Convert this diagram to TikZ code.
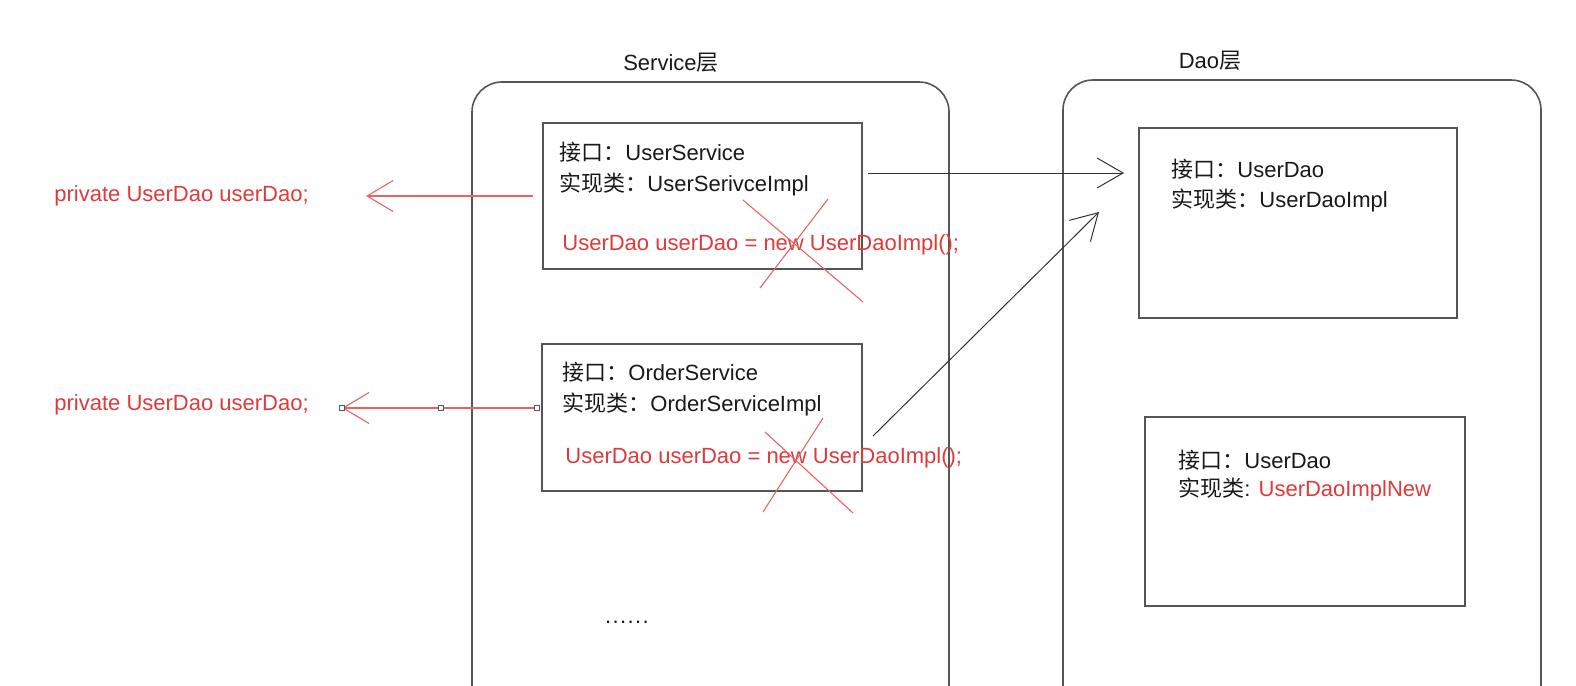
\documentclass[tikz,border=0pt]{standalone}
\usepackage{fontspec}
\setmainfont{Liberation Sans}
\newfontfamily\cjk{Noto Sans CJK SC}
\usetikzlibrary{arrows.meta}
\definecolor{redtxt}{RGB}{222,58,58}
\definecolor{redln}{RGB}{232,100,100}
\definecolor{boxln}{RGB}{85,85,85}
\definecolor{arrln}{RGB}{50,50,50}
\definecolor{txt}{RGB}{25,25,25}
\begin{document}
\begin{tikzpicture}[x=0.5pt,y=-0.5pt,
  every node/.style={font=\fontsize{11}{13}\selectfont, inner sep=0pt, text=txt},
  container/.style={draw=boxln, line width=0.8pt, rounded corners=15pt},
  box/.style={draw=boxln, line width=0.8pt},
  lbl/.style={anchor=west},
  redlbl/.style={anchor=west, text=redtxt},
  redarrow/.style={draw=redln, line width=0.55pt, -{Straight Barb[length=13pt,width=15.5pt,line width=0.55pt]}},
  blkarrow/.style={draw=arrln, line width=0.5pt, -{Straight Barb[length=13pt,width=15pt,line width=0.5pt]}},
  strike/.style={draw=redln, line width=0.55pt},
  handle/.style={draw=boxln, fill=white, line width=0.4pt, minimum size=2.5pt, inner sep=0pt}]
\useasboundingbox (0,0) rectangle (1576,686);
\clip (0,0) rectangle (1576,686);

% containers
\draw[container] (472,730) |- (949,82) -- (949,730);
\draw[container] (1063,730) |- (1541,80) -- (1541,730);
\node (svcT) at (671,63) {Service{\cjk 层}};
\node (daoT) at (1210,61) {Dao{\cjk 层}};

% service boxes
\node[box, minimum width=159.5pt, minimum height=73pt] (us) at (702.5,196) {};
\node[box, minimum width=160pt, minimum height=73.5pt] (os) at (702,417.5) {};
% dao boxes
\node[box, minimum width=159pt, minimum height=95pt] (dao1) at (1298,223) {};
\node[box, minimum width=160pt, minimum height=94.5pt] (dao2) at (1305,511.5) {};

% texts
\node[lbl] (us1) at (559,152) {{\cjk 接口：}UserService};
\node[lbl] (us2) at (559,184) {{\cjk 实现类：}UserSerivceImpl};
\node[redlbl] (us3) at (562,245) {UserDao userDao = new UserDaoImpl();};
\node[lbl] (os1) at (562,372) {{\cjk 接口：}OrderService};
\node[lbl] (os2) at (562,404) {{\cjk 实现类：}OrderServiceImpl};
\node[redlbl] (os3) at (565,458) {UserDao userDao = new UserDaoImpl();};
\node[lbl] (d1a) at (1171,169) {{\cjk 接口：}UserDao};
\node[lbl] (d1b) at (1171,200) {{\cjk 实现类：}UserDaoImpl};
\node[lbl] (d2a) at (1178,460) {{\cjk 接口：}UserDao};
\node[lbl] (d2b) at (1178,489) {{\cjk 实现类}: \textcolor{redtxt}{UserDaoImplNew}};
\node[redlbl] (pv1) at (54,196) {private UserDao userDao;};
\node[redlbl] (pv2) at (54,405) {private UserDao userDao;};
\node (dots) at (627,622) {.\kern0.7pt.\kern0.7pt.\kern0.7pt.\kern0.7pt.\kern0.7pt.};

% red arrows
\coordinate (ra1s) at (533,196);
\coordinate (ra1e) at (366,196);
\draw[redarrow] (ra1s) -- (ra1e);
\coordinate (ra2s) at (537,408);
\coordinate (ra2m) at (441,408);
\coordinate (ra2e) at (342,408);
\draw[redarrow] (ra2s) -- (ra2e);
\node[handle] (h1) at (ra2s) {};
\node[handle] (h2) at (ra2m) {};
\node[handle] (h3) at (ra2e) {};

% black arrows
\coordinate (ba1s) at (868,173);
\coordinate (ba1e) at (1124,173);
\draw[blkarrow] (ba1s) -- (ba1e);
\coordinate (ba2s) at (873,436);
\coordinate (ba2e) at (1099,212);
\draw[blkarrow] (ba2s) -- (ba2e);

% strike-through crosses
\coordinate (c1a) at (743,200); \coordinate (c1b) at (863,302);
\coordinate (c1c) at (828,199); \coordinate (c1d) at (760,288);
\draw[strike] (c1a) -- (c1b);
\draw[strike] (c1c) -- (c1d);
\coordinate (c2a) at (765,432); \coordinate (c2b) at (853,513);
\coordinate (c2c) at (823,418); \coordinate (c2d) at (763,512);
\draw[strike] (c2a) -- (c2b);
\draw[strike] (c2c) -- (c2d);
\end{tikzpicture}
\end{document}
